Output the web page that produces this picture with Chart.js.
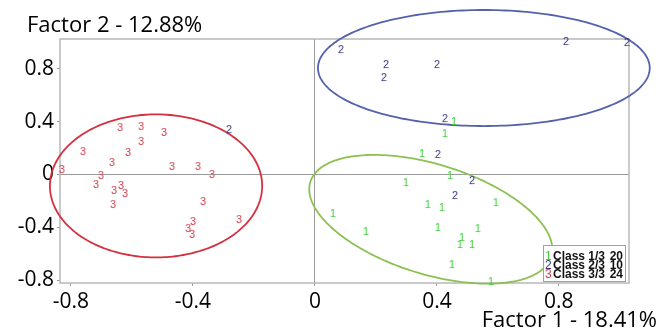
<!DOCTYPE html>
<html>
<head>
<meta charset="utf-8">
<script src="https://cdn.jsdelivr.net/npm/chart.js@4.4.1/dist/chart.umd.min.js"></script>
<style>
  html, body { margin: 0; padding: 0; background: #fff; }
  #wrap { width: 670px; height: 333px; }
</style>
</head>
<body>
<div id="wrap"><canvas id="factorMap"></canvas></div>
<script>
// Factor coordinates of each individual, per class
const class1X = [0.456, 0.426, 0.351, 0.298, 0.443, 0.059, 0.167, 0.370, 0.416, 0.403, 0.593, 0.534, 0.482, 0.475, 0.515, 0.449, 0.577];
const class1Y = [0.404, 0.313, 0.162, -0.057, -0.004, -0.291, -0.426, -0.223, -0.245, -0.396, -0.208, -0.404, -0.472, -0.525, -0.525, -0.675, -0.804];
const class2X = [0.085, 0.823, 1.023, 0.233, 0.226, 0.400, 0.426, 0.403, 0.515, 0.459, -0.282];
const class2Y = [0.947, 1.008, 1.000, 0.834, 0.736, 0.834, 0.426, 0.155, -0.042, -0.155, 0.343];
const class3X = [-0.639, -0.570, -0.495, -0.570, -0.761, -0.613, -0.666, -0.469, -0.384, -0.830, -0.702, -0.718, -0.636, -0.659, -0.623, -0.662, -0.338, -0.367, -0.249, -0.400, -0.416, -0.403];
const class3Y = [0.358, 0.366, 0.321, 0.253, 0.177, 0.170, 0.094, 0.064, 0.064, 0.042, -0.004, -0.072, -0.079, -0.117, -0.140, -0.223, 0.004, -0.200, -0.336, -0.351, -0.404, -0.449];

const tickValues = [-0.8, -0.4, 0, 0.4, 0.8];
const tickLabels = ['-0.8', '-0.4', '0', '0.4', '0.8'];

const classSymbols = ['1', '2', '3'];
const legendLabels = ['Class 1/3', 'Class 2/3', 'Class 3/3'];
const legendCounts = [20, 10, 24];

// confidence ellipses: centre and the two semi-axis vectors, in factor units
const ellipseCentres = [[0.380, -0.338], [0.554, 0.804], [-0.521, -0.086]];
const ellipseAxisU = [[0.395, -0.282], [0.544, 0], [0.348, 0]];
const ellipseAxisV = [[-0.053, -0.396], [0, 0.438], [0, 0.540]];

const textColors = ['#3fd03a', '#34347c', '#d4404c'];
const ellipseColors = ['#8cc152', '#5461ab', '#d4303e'];

function symbolImage(ch, color) {
    const c = document.createElement('canvas');
    c.width = 12;
    c.height = 14;
    const g = c.getContext('2d');
    g.font = '11px "Liberation Sans", Arial, sans-serif';
    g.fillStyle = color;
    g.textAlign = 'center';
    g.textBaseline = 'middle';
    g.fillText(ch, 6, 7.5);
    return c;
}

function points(xs, ys) {
    return xs.map((x, i) => ({x: x, y: ys[i]}));
}

const decorations = {
    id: 'decorations',
    beforeDatasetsDraw(chart) {
        const {ctx, chartArea: a, scales: {x, y}} = chart;
        ctx.save();
        ctx.strokeStyle = '#b8b8b8';
        ctx.lineWidth = 1.5;
        ctx.strokeRect(a.left, a.top, a.right - a.left, a.bottom - a.top);

        ctx.lineWidth = 1.8;
        ellipseCentres.forEach((c, k) => {
            const u = ellipseAxisU[k], v = ellipseAxisV[k];
            ctx.beginPath();
            for (let s = 0; s <= 240; s++) {
                const t = s / 240 * Math.PI * 2;
                const px = x.getPixelForValue(c[0] + u[0] * Math.cos(t) + v[0] * Math.sin(t));
                const py = y.getPixelForValue(c[1] + u[1] * Math.cos(t) + v[1] * Math.sin(t));
                if (s === 0) ctx.moveTo(px, py); else ctx.lineTo(px, py);
            }
            ctx.closePath();
            ctx.strokeStyle = ellipseColors[k];
            ctx.stroke();
        });
        ctx.restore();
    },
    afterDraw(chart) {
        const {ctx, chartArea: a} = chart;
        ctx.save();
        ctx.fillStyle = '#000';
        ctx.font = '22px "Open Sans", sans-serif';
        ctx.textBaseline = 'alphabetic';
        ctx.textAlign = 'left';
        ctx.fillText('Factor 2 - 12.88%', 27, a.top - 7);
        ctx.textAlign = 'right';
        ctx.fillText('Factor 1 - 18.41%', 657, 327);

        // legend box
        const w = 82, h = 36;
        const lx = a.right - 4 - w, ly = a.bottom - 2 - h;
        ctx.fillStyle = '#fff';
        ctx.fillRect(lx, ly, w, h);
        ctx.strokeStyle = '#a0a0a0';
        ctx.lineWidth = 1;
        ctx.strokeRect(lx + 0.5, ly + 0.5, w, h);
        ctx.textBaseline = 'middle';
        legendLabels.forEach((lab, i) => {
            const yy = ly + 12 + i * 9;
            ctx.font = '12px "Liberation Sans", Arial, sans-serif';
            ctx.textAlign = 'left';
            ctx.fillStyle = textColors[i];
            ctx.fillText(classSymbols[i], lx + 2, yy);
            ctx.font = 'bold 12px "Liberation Sans", Arial, sans-serif';
            ctx.fillStyle = '#111';
            ctx.fillText(lab, lx + 10, yy);
            ctx.textAlign = 'right';
            ctx.fillText(String(legendCounts[i]), lx + w - 2, yy);
        });
        ctx.restore();
    }
};

const zeroGrid = {
    drawOnChartArea: true,
    color: c => (c.tick && c.tick.value === 0) ? '#9a9a9a' : 'rgba(0,0,0,0)',
    lineWidth: 1,
    borderDash: [1, 2],
    tickColor: '#9a9a9a',
    tickLength: 3,
    tickBorderDash: []
};

new Chart(document.getElementById('factorMap'), {
    type: 'scatter',
    data: {
        datasets: [
            {label: legendLabels[0], data: points(class1X, class1Y), pointStyle: symbolImage(classSymbols[0], textColors[0])},
            {label: legendLabels[1], data: points(class2X, class2Y), pointStyle: symbolImage(classSymbols[1], textColors[1])},
            {label: legendLabels[2], data: points(class3X, class3Y), pointStyle: symbolImage(classSymbols[2], textColors[2])}
        ].map(d => Object.assign(d, {clip: false, pointRadius: 5, pointHoverRadius: 5}))
    },
    options: {
        responsive: true,
        maintainAspectRatio: false,
        animation: false,
        events: [],
        layout: {padding: {left: 0, top: 39, right: 41, bottom: 0}},
        plugins: {
            legend: {display: false},
            tooltip: {enabled: false}
        },
        scales: {
            x: {
                type: 'linear',
                min: -0.836,
                max: 1.03,
                afterBuildTicks: s => { s.ticks = tickValues.map(v => ({value: v})); },
                afterFit: s => { s.height = 50; },
                ticks: {
                    padding: 3,
                    color: '#000',
                    font: {family: '"Open Sans", sans-serif', size: 21},
                    callback: (v, i) => tickLabels[i]
                },
                grid: zeroGrid,
                border: {display: false}
            },
            y: {
                type: 'linear',
                min: -0.819,
                max: 1.023,
                afterBuildTicks: s => { s.ticks = tickValues.map(v => ({value: v})); },
                afterFit: s => { s.width = 60; },
                ticks: {
                    padding: 3,
                    color: '#000',
                    font: {family: '"Open Sans", sans-serif', size: 21},
                    callback: (v, i) => tickLabels[i]
                },
                grid: zeroGrid,
                border: {display: false}
            }
        }
    },
    plugins: [decorations]
});
</script>
</body>
</html>
